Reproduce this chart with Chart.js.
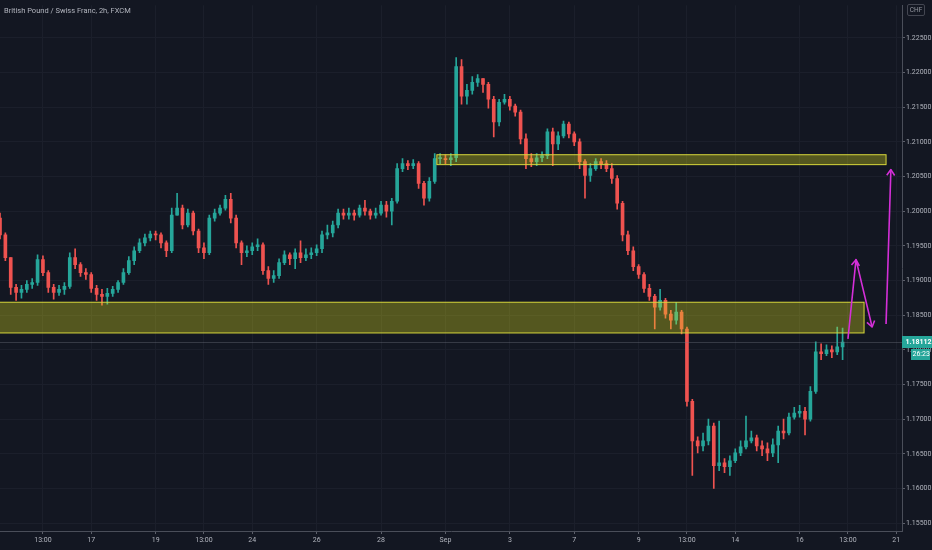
<!DOCTYPE html>
<html>
<head>
<meta charset="utf-8">
<script src="https://cdn.jsdelivr.net/npm/chart.js@4.4.0/dist/chart.umd.min.js"></script>
<style>
  html, body { margin: 0; padding: 0; background: #131722; }
  #wrap { position: relative; width: 932px; height: 550px; }
  #title { position: absolute; left: 4px; top: 6px; font: 7.5px Roboto, sans-serif; color: #b2b5be; white-space: nowrap; }
  #cur { position: absolute; left: 907px; top: 4px; width: 16px; height: 10px; border: 1px solid #434651; border-radius: 2px;
         font: 6.5px Roboto, sans-serif; color: #9598a1; text-align: center; line-height: 10px; }
</style>
</head>
<body>
<div id="wrap">
  <canvas id="theChart"></canvas>
  <div id="title">British Pound / Swiss Franc, 2h, FXCM</div>
  <div id="cur">CHF</div>
</div>
<script>
// 4h candles (index = candle slot, 6 per trading day)
const firstOpen = 1.19900
const closes = [
  1.19657,1.19329,1.18900,1.18829,1.18871,1.18943,1.18971,1.19300,1.19114,1.18900,
  1.18829,1.18871,1.18914,1.19329,1.19229,1.19114,1.19086,1.18886,1.18800,1.18771,
  1.18814,1.18871,1.18971,1.19114,1.19286,1.19429,1.19543,1.19614,1.19671,1.19657,
  1.19543,1.19429,1.19943,1.20043,1.19800,1.19971,1.19714,1.19471,1.19400,1.19900,
  1.19971,1.20043,1.20171,1.19900,1.19543,1.19400,1.19429,1.19486,1.19514,1.19143,
  1.19029,1.19071,1.19257,1.19371,1.19314,1.19400,1.19329,1.19371,1.19400,1.19457,
  1.19657,1.19686,1.19800,1.19971,1.19943,1.19971,1.19943,1.20043,1.20000,1.19943,
  1.19971,1.20086,1.20000,1.20143,1.20614,1.20686,1.20657,1.20686,1.20400,1.20186,
  1.20429,1.20757,1.20757,1.20743,1.20771,1.22086,1.21657,1.21743,1.21857,1.21914,
  1.21829,1.21614,1.21286,1.21571,1.21614,1.21514,1.21429,1.21043,1.20757,1.20714,
  1.20771,1.20800,1.21143,1.20971,1.21086,1.21257,1.21114,1.21000,1.20714,1.20514,
  1.20614,1.20714,1.20686,1.20614,1.20471,1.20114,1.19657,1.19429,1.19200,1.19086,
  1.18886,1.18771,1.18614,1.18714,1.18514,1.18429,1.18543,1.18300,1.17257,1.16686,
  1.16614,1.16686,1.16900,1.16329,1.16371,1.16314,1.16400,1.16514,1.16600,1.16686,
  1.16729,1.16614,1.16571,1.16514,1.16629,1.16829,1.16800,1.17029,1.17086,1.17114,
  1.17000,1.17400,1.17971,1.17943,1.18000,1.17971,1.18043,1.18112
]
const highs = [
  1.19971,1.19686,1.19329,1.18943,1.18929,1.19000,1.19029,1.19371,1.19357,1.19143,
  1.18943,1.18929,1.18971,1.19400,1.19457,1.19257,1.19171,1.19114,1.18929,1.18871,
  1.18886,1.18914,1.19000,1.19171,1.19343,1.19486,1.19600,1.19671,1.19714,1.19714,
  1.19686,1.19571,1.20043,1.20257,1.20086,1.20029,1.20000,1.19743,1.19543,1.19943,
  1.20029,1.20086,1.20229,1.20257,1.19943,1.19571,1.19500,1.19543,1.19600,1.19543,
  1.19200,1.19143,1.19314,1.19429,1.19400,1.19457,1.19571,1.19457,1.19471,1.19514,
  1.19714,1.19800,1.19857,1.20029,1.20029,1.20043,1.20014,1.20086,1.20157,1.20029,
  1.20043,1.20143,1.20143,1.20186,1.20686,1.20757,1.20729,1.20743,1.20714,1.20429,
  1.20486,1.20829,1.20829,1.20814,1.20829,1.22214,1.22186,1.21829,1.21943,1.21971,
  1.21914,1.21857,1.21657,1.21614,1.21686,1.21657,1.21543,1.21457,1.21114,1.20829,
  1.20829,1.20857,1.21186,1.21200,1.21143,1.21300,1.21286,1.21143,1.21043,1.20743,
  1.20686,1.20757,1.20757,1.20729,1.20686,1.20514,1.20143,1.19714,1.19486,1.19229,
  1.19114,1.18943,1.18800,1.18871,1.18743,1.18571,1.18686,1.18571,1.18329,1.17286,
  1.16743,1.16800,1.17000,1.16943,1.16971,1.16429,1.16471,1.16571,1.16686,1.17043,
  1.16829,1.16771,1.16686,1.16657,1.16714,1.16900,1.17000,1.17086,1.17171,1.17200,
  1.17171,1.17471,1.18114,1.18086,1.18071,1.18057,1.18329,1.18314
]
const lows = [
  1.19600,1.19286,1.18800,1.18714,1.18743,1.18829,1.18886,1.18929,1.19071,1.18829,
  1.18729,1.18786,1.18800,1.18886,1.19171,1.19057,1.19014,1.18829,1.18714,1.18643,
  1.18657,1.18771,1.18829,1.18943,1.19086,1.19229,1.19400,1.19500,1.19571,1.19586,
  1.19471,1.19343,1.19400,1.19943,1.19743,1.19771,1.19657,1.19400,1.19314,1.19371,
  1.19857,1.19943,1.20014,1.19829,1.19471,1.19229,1.19343,1.19371,1.19429,1.19086,
  1.18943,1.18971,1.19029,1.19229,1.19229,1.19171,1.19257,1.19286,1.19314,1.19357,
  1.19400,1.19600,1.19629,1.19757,1.19886,1.19886,1.19871,1.19914,1.19943,1.19886,
  1.19900,1.19943,1.19914,1.19800,1.20114,1.20571,1.20600,1.20614,1.20329,1.20086,
  1.20143,1.20400,1.20686,1.20686,1.20657,1.20714,1.21543,1.21543,1.21686,1.21800,
  1.21714,1.21486,1.21071,1.21229,1.21543,1.21457,1.21371,1.20971,1.20614,1.20643,
  1.20657,1.20714,1.20757,1.20657,1.20886,1.21057,1.21057,1.20943,1.20614,1.20186,
  1.20429,1.20586,1.20614,1.20571,1.20400,1.20029,1.19571,1.19371,1.19143,1.19029,
  1.18829,1.18714,1.18300,1.18571,1.18457,1.18300,1.18371,1.18229,1.17186,1.16186,
  1.16514,1.16543,1.16629,1.16000,1.16257,1.16229,1.16186,1.16371,1.16471,1.16571,
  1.16657,1.16543,1.16471,1.16400,1.16457,1.16371,1.16714,1.16771,1.17000,1.17029,
  1.16771,1.16971,1.17371,1.17857,1.17914,1.17886,1.17929,1.17857
]

// x axis labels (slot positions) and price axis ticks
const tickPos    = [8, 17, 29, 38, 47, 59, 71, 83, 95, 107, 119, 128, 137, 149, 158, 167]
const tickLabels = ['13:00','17','19','13:00','24','26','28','Sep','3','7','9','13:00','14','16','13:00','21']
const priceTicks = [1.155,1.160,1.165,1.170,1.175,1.180,1.185,1.190,1.195,1.200,1.205,1.210,1.215,1.220,1.225]

// drawings: [fromSlot, toSlot, topPrice, bottomPrice]
const zoneLow  = [-2, 161.0, 1.18686, 1.18243]
const zoneHigh = [81.4, 165.1, 1.20814, 1.20671]
// arrow paths: [slot, price]
const arrowA = [[158.0, 1.18157], [159.5, 1.19300], [162.5, 1.18329]]
const arrowB = [[165.1, 1.18371], [166.0, 1.20600]]
const lastPrice = 1.18112
const countdown = '26:23'

const UP = '#26a69a', DOWN = '#ef5350'
const opens = closes.map((c, i) => i === 0 ? firstOpen : closes[i - 1])
const colors = closes.map((c, i) => c >= opens[i] ? UP : DOWN)

const wicks = closes.map((c, i) => ({ x: i, y: [Math.min(lows[i], opens[i], c), Math.max(highs[i], opens[i], c)] }))
const bodies = closes.map((c, i) => ({ x: i, y: [opens[i], c] }))

function arrowHead(ctx, x0, y0, x1, y1, len) {
  const a = Math.atan2(y1 - y0, x1 - x0)
  ctx.beginPath()
  ctx.moveTo(x1 - len * Math.cos(a - 0.6), y1 - len * Math.sin(a - 0.6))
  ctx.lineTo(x1, y1)
  ctx.lineTo(x1 - len * Math.cos(a + 0.6), y1 - len * Math.sin(a + 0.6))
  ctx.stroke()
}

const drawings = {
  id: 'drawings',
  afterDatasetsDraw(chart) {
    const { ctx, chartArea: a, scales: { x, y } } = chart
    ctx.save()
    ctx.beginPath()
    ctx.rect(a.left, a.top, a.right - a.left, a.bottom - a.top)
    ctx.clip()

    // last price line
    const py = Math.round(y.getPixelForValue(lastPrice)) + 0.5
    ctx.strokeStyle = 'rgba(120,123,134,0.35)'
    ctx.lineWidth = 1
    ctx.beginPath(); ctx.moveTo(a.left, py); ctx.lineTo(a.right, py); ctx.stroke()

    for (const z of [zoneLow, zoneHigh]) {
      const x0 = x.getPixelForValue(z[0]), x1 = x.getPixelForValue(z[1])
      const y0 = y.getPixelForValue(z[2]), y1 = y.getPixelForValue(z[3])
      ctx.fillStyle = 'rgba(225,225,25,0.32)'
      ctx.fillRect(x0, y0, x1 - x0, y1 - y0)
      ctx.strokeStyle = '#d8d83c'
      ctx.lineWidth = 1
      ctx.strokeRect(x0, y0, x1 - x0, y1 - y0)
    }

    ctx.strokeStyle = '#d42fd8'
    ctx.lineWidth = 1.6
    ctx.lineJoin = 'round'
    for (const path of [arrowA, arrowB]) {
      const pts = path.map(p => [x.getPixelForValue(p[0]), y.getPixelForValue(p[1])])
      ctx.beginPath()
      pts.forEach((p, i) => i ? ctx.lineTo(p[0], p[1]) : ctx.moveTo(p[0], p[1]))
      ctx.stroke()
      for (let i = 1; i < pts.length; i++) arrowHead(ctx, pts[i - 1][0], pts[i - 1][1], pts[i][0], pts[i][1], 7)
    }
    ctx.restore()
  },
  afterDraw(chart) {
    const { ctx, chartArea: a, scales: { y } } = chart
    const py = Math.round(y.getPixelForValue(lastPrice))
    ctx.save()
    ctx.fillStyle = UP
    ctx.fillRect(a.right, py - 6, 30, 12)
    ctx.fillRect(a.right + 9, py + 7, 19, 11)
    ctx.fillStyle = '#ffffff'
    ctx.font = 'bold 7px Roboto'
    ctx.textBaseline = 'middle'
    ctx.fillText(lastPrice.toFixed(5), a.right + 3.5, py + 0.5)
    ctx.font = '7px Roboto'
    ctx.fillText(countdown, a.right + 10.5, py + 12.5)
    ctx.restore()
  }
}

const ctx = document.getElementById('theChart')
new Chart(ctx, {
  type: 'bar',
  data: {
    datasets: [
      { data: wicks, backgroundColor: colors, barThickness: 1, grouped: false, borderWidth: 0 },
      { data: bodies, backgroundColor: colors, barThickness: 3, grouped: false, borderWidth: 0, minBarLength: 1 }
    ]
  },
  options: {
    responsive: true,
    maintainAspectRatio: false,
    animation: false,
    layout: { padding: 0 },
    plugins: { legend: { display: false }, tooltip: { enabled: false } },
    scales: {
      x: {
        type: 'linear',
        min: 0,
        max: 168.07,
        offset: false,
        afterBuildTicks: s => { s.ticks = tickPos.map(v => ({ value: v })) },
        afterFit: s => { s.height = 19 },
        ticks: {
          autoSkip: false, maxRotation: 0, padding: 2,
          color: '#b2b5be', font: { family: 'Roboto', size: 7 },
          callback: (v, i) => tickLabels[i]
        },
        grid: { color: '#1b1f2b', tickColor: '#5d606b', tickLength: 3, offset: false },
        border: { color: '#4a4e59' }
      },
      y: {
        position: 'right',
        min: 1.15386,
        max: 1.22971,
        afterBuildTicks: s => { s.ticks = priceTicks.map(v => ({ value: v })) },
        afterFit: s => { s.width = 30 },
        ticks: {
          padding: 1, color: '#b2b5be', font: { family: 'Roboto', size: 7 },
          callback: v => v.toFixed(5)
        },
        grid: { color: '#1b1f2b', tickColor: '#5d606b', tickLength: 3 },
        border: { color: '#4a4e59' }
      }
    }
  },
  plugins: [drawings]
})
</script>
</body>
</html>
